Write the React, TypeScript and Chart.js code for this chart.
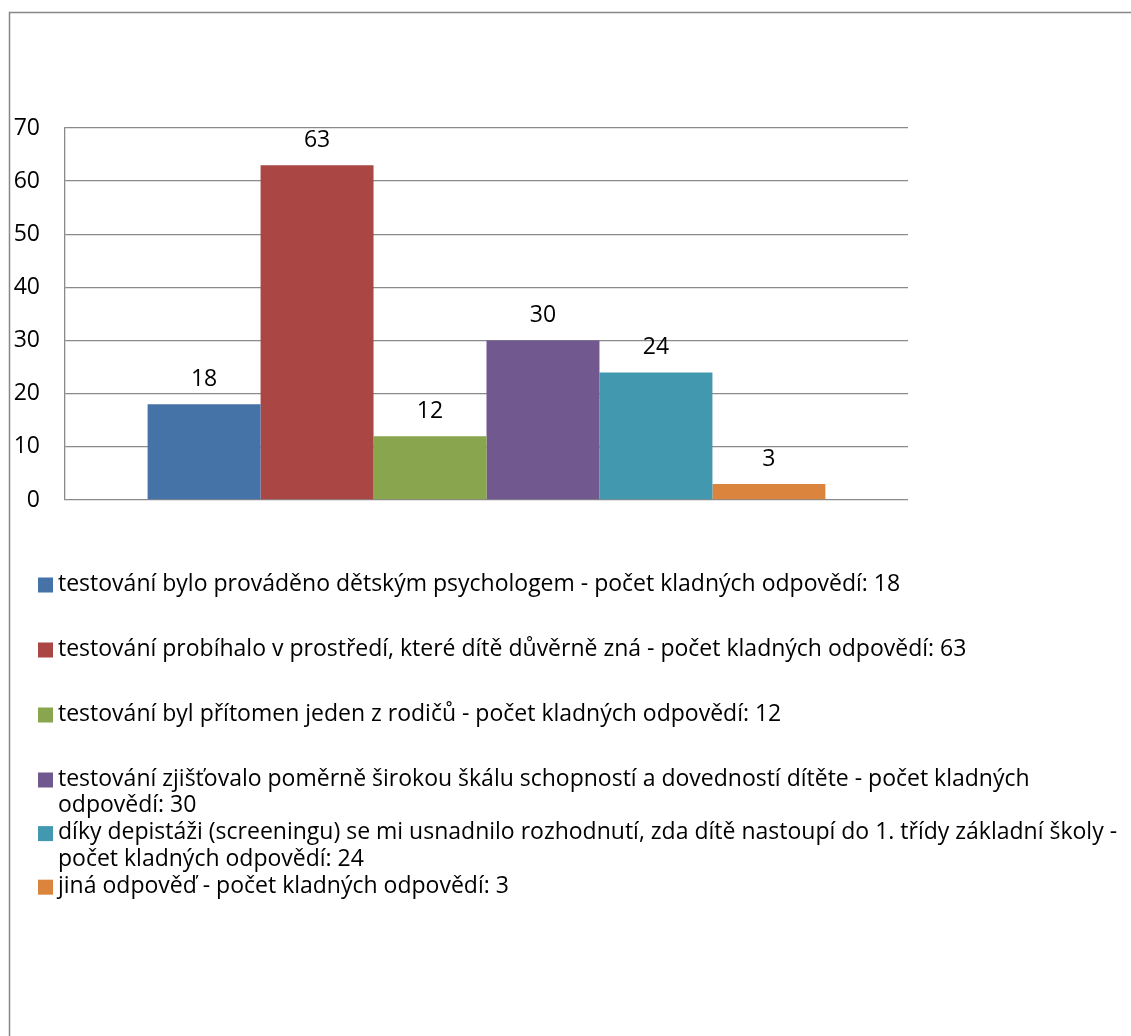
import React, { useEffect, useRef } from "react";
import { Chart, registerables } from "chart.js";

Chart.register(...registerables);

const categories = [""];
const seriesLabels = [
  "testování bylo prováděno dětským psychologem - počet kladných odpovědí: 18",
  "testování probíhalo v prostředí, které dítě důvěrně zná - počet kladných odpovědí: 63",
  "testování byl přítomen jeden z rodičů - počet kladných odpovědí: 12",
  "testování zjišťovalo poměrně širokou škálu schopností a dovedností dítěte - počet kladných odpovědí: 30",
  "díky depistáži (screeningu) se mi usnadnilo rozhodnutí, zda dítě nastoupí do 1. třídy základní školy - počet kladných odpovědí: 24",
  "jiná odpověď - počet kladných odpovědí: 3",
];
const seriesValues = [18, 63, 12, 30, 24, 3];
const seriesColors = ["#4572A7", "#AA4643", "#89A54E", "#71588F", "#4198AF", "#DB843D"];
const yMin = 0;
const yMax = 70;
const yStep = 10;

const FONT_FAMILY = "'Open Sans', 'Noto Sans', sans-serif";
const FONT_SIZE = 23;
const GRID = "#8a8a8a";

function wrapText(ctx: CanvasRenderingContext2D, text: string, maxWidth: number): string[] {
  const words = text.split(" ");
  const lines: string[] = [];
  let cur = "";
  for (const w of words) {
    const test = cur ? cur + " " + w : w;
    if (ctx.measureText(test).width > maxWidth && cur) {
      lines.push(cur);
      cur = w;
    } else {
      cur = test;
    }
  }
  if (cur) lines.push(cur);
  return lines;
}

const framePlugin = {
  id: "frame",
  beforeDraw(chart: any) {
    const ctx = chart.ctx as CanvasRenderingContext2D;
    ctx.save();
    ctx.fillStyle = "#ffffff";
    ctx.fillRect(0, 0, chart.width, chart.height);
    ctx.strokeStyle = "#878787";
    ctx.lineWidth = 1.5;
    ctx.strokeRect(9.5, 12.5, chart.width + 40, chart.height + 40);
    ctx.restore();
  },
};

const valueLabelPlugin = {
  id: "valueLabels",
  afterDatasetsDraw(chart: any) {
    const ctx = chart.ctx as CanvasRenderingContext2D;
    ctx.save();
    ctx.font = `${FONT_SIZE}px ${FONT_FAMILY}`;
    ctx.fillStyle = "#000000";
    ctx.textAlign = "center";
    ctx.textBaseline = "middle";
    chart.data.datasets.forEach((ds: any, i: number) => {
      const meta = chart.getDatasetMeta(i);
      meta.data.forEach((bar: any, j: number) => {
        ctx.fillText(String(ds.data[j]), bar.x, bar.y - 25);
      });
    });
    ctx.restore();
  },
};

const legendPlugin = {
  id: "customLegend",
  afterDraw(chart: any) {
    const ctx = chart.ctx as CanvasRenderingContext2D;
    ctx.save();
    ctx.font = `${FONT_SIZE}px ${FONT_FAMILY}`;
    ctx.textBaseline = "middle";
    ctx.textAlign = "left";
    const boxX = 38;
    const boxSize = 15;
    const textX = 58;
    const maxW = 1072;
    const lineH = 26.8;
    let y = 584;
    chart.data.datasets.forEach((ds: any) => {
      const lines = wrapText(ctx, ds.label, maxW);
      ctx.fillStyle = ds.backgroundColor;
      ctx.fillRect(boxX, y - boxSize / 2 + 1, boxSize, boxSize);
      ctx.fillStyle = "#000000";
      lines.forEach((ln, k) => ctx.fillText(ln, textX, y + k * lineH));
      y += lines.length === 1 ? 65 : lines.length * lineH;
    });
    ctx.restore();
  },
};

export default function App() {
  const canvasRef = useRef<HTMLCanvasElement | null>(null);

  useEffect(() => {
    if (!canvasRef.current) return;
    const chart = new Chart(canvasRef.current, {
      type: "bar",
      data: {
        labels: categories,
        datasets: seriesLabels.map((label, i) => ({
          label,
          data: [seriesValues[i]],
          backgroundColor: seriesColors[i],
          borderWidth: 0,
        })),
      },
      options: {
        animation: false,
        responsive: true,
        maintainAspectRatio: false,
        layout: { padding: { left: 0, top: 128, right: 223, bottom: 536 } },
        datasets: { bar: { barPercentage: 1, categoryPercentage: 0.804 } },
        plugins: {
          legend: { display: false },
          tooltip: { enabled: false },
          title: { display: false },
        },
        scales: {
          x: { display: false },
          y: {
            min: yMin,
            max: yMax,
            ticks: {
              stepSize: yStep,
              padding: 25,
              color: "#000000",
              font: { family: FONT_FAMILY, size: FONT_SIZE },
            },
            grid: { color: GRID, lineWidth: 1.3, drawTicks: false },
            border: { display: true, color: GRID, width: 1.3 },
            afterFit: (scale: any) => {
              scale.width = 65;
            },
          },
        },
      },
      plugins: [framePlugin, valueLabelPlugin, legendPlugin],
    });
    return () => chart.destroy();
  }, []);

  return (
    <div style={{ position: "absolute", left: 0, top: 0, width: 1131, height: 1036 }}>
      <canvas ref={canvasRef} />
    </div>
  );
}
